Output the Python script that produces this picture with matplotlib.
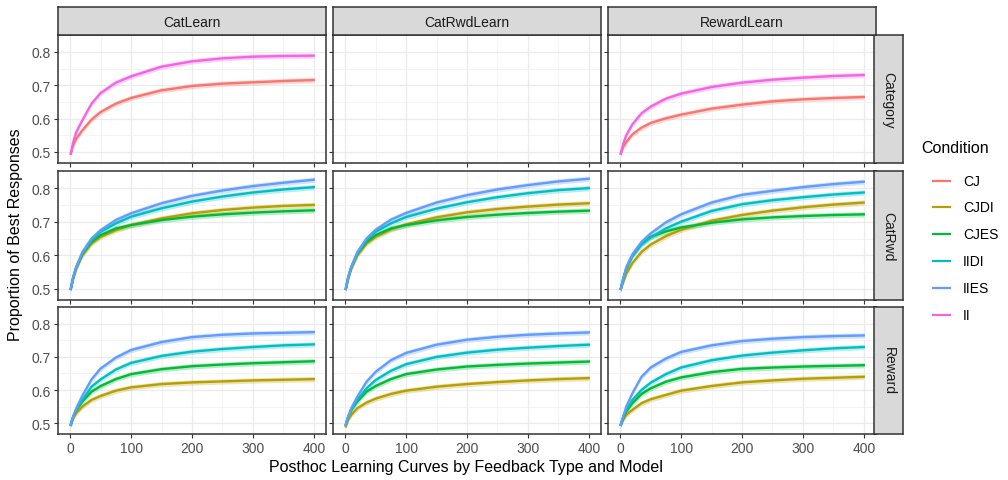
import matplotlib
matplotlib.use("Agg")
import matplotlib.pyplot as plt
from matplotlib.lines import Line2D

plt.rcParams['font.family'] = ['Liberation Sans', 'DejaVu Sans']

# ---------------- data ----------------
models = ["CatLearn", "CatRwdLearn", "RewardLearn"]          # columns
feedback = ["Category", "CatRwd", "Reward"]                  # rows
conditions = ["CJ", "CJDI", "CJES", "IIDI", "IIES", "II"]
colors = ["#F8766D", "#B79F00", "#00BA38", "#00BFC4", "#619CFF", "#F564E3"]

trial = [1, 5, 10, 20, 35, 50, 75, 100, 150, 200, 250, 300, 350, 400]
x_ticks = [0, 100, 200, 300, 400]
y_ticks = [0.5, 0.6, 0.7, 0.8]

# Category feedback
cat_catlearn_CJ = [0.495, 0.52, 0.54, 0.565, 0.597, 0.62, 0.645, 0.662, 0.685, 0.698, 0.705, 0.709, 0.713, 0.716]
cat_catlearn_II = [0.495, 0.53, 0.56, 0.595, 0.645, 0.677, 0.708, 0.727, 0.756, 0.772, 0.781, 0.786, 0.788, 0.789]
cat_rewardlearn_CJ = [0.495, 0.515, 0.53, 0.553, 0.573, 0.587, 0.601, 0.612, 0.63, 0.642, 0.652, 0.658, 0.662, 0.665]
cat_rewardlearn_II = [0.495, 0.525, 0.55, 0.583, 0.616, 0.636, 0.66, 0.675, 0.695, 0.708, 0.717, 0.723, 0.728, 0.731]

# CatRwd feedback
crw_catlearn_CJDI = [0.50, 0.53, 0.56, 0.60, 0.635, 0.655, 0.675, 0.69, 0.71, 0.725, 0.735, 0.742, 0.747, 0.75]
crw_catlearn_CJES = [0.50, 0.535, 0.565, 0.605, 0.64, 0.66, 0.68, 0.69, 0.705, 0.715, 0.722, 0.727, 0.731, 0.734]
crw_catlearn_IIDI = [0.50, 0.535, 0.565, 0.605, 0.645, 0.67, 0.695, 0.715, 0.74, 0.76, 0.775, 0.787, 0.796, 0.803]
crw_catlearn_IIES = [0.50, 0.535, 0.565, 0.61, 0.65, 0.675, 0.705, 0.725, 0.755, 0.777, 0.793, 0.806, 0.816, 0.825]

crw_catrwd_CJDI = [0.50, 0.53, 0.56, 0.60, 0.635, 0.655, 0.677, 0.692, 0.713, 0.728, 0.738, 0.745, 0.751, 0.755]
crw_catrwd_CJES = [0.50, 0.535, 0.565, 0.605, 0.64, 0.66, 0.68, 0.69, 0.704, 0.714, 0.721, 0.726, 0.730, 0.733]
crw_catrwd_IIDI = [0.50, 0.535, 0.565, 0.605, 0.645, 0.67, 0.695, 0.714, 0.739, 0.758, 0.773, 0.785, 0.794, 0.80]
crw_catrwd_IIES = [0.50, 0.535, 0.565, 0.61, 0.65, 0.676, 0.706, 0.726, 0.757, 0.779, 0.796, 0.809, 0.82, 0.828]

crw_rewardlearn_CJDI = [0.50, 0.52, 0.545, 0.577, 0.61, 0.632, 0.657, 0.676, 0.703, 0.72, 0.733, 0.743, 0.751, 0.757]
crw_rewardlearn_CJES = [0.50, 0.53, 0.56, 0.60, 0.635, 0.655, 0.671, 0.683, 0.697, 0.707, 0.713, 0.717, 0.72, 0.722]
crw_rewardlearn_IIDI = [0.50, 0.53, 0.56, 0.597, 0.632, 0.653, 0.68, 0.70, 0.732, 0.752, 0.764, 0.773, 0.781, 0.787]
crw_rewardlearn_IIES = [0.50, 0.53, 0.565, 0.603, 0.64, 0.665, 0.698, 0.722, 0.757, 0.78, 0.792, 0.803, 0.812, 0.819]

# Reward feedback
rwd_catlearn_CJDI = [0.495, 0.515, 0.53, 0.55, 0.57, 0.582, 0.598, 0.608, 0.618, 0.623, 0.626, 0.629, 0.631, 0.633]
rwd_catlearn_CJES = [0.495, 0.52, 0.54, 0.565, 0.595, 0.612, 0.633, 0.648, 0.663, 0.672, 0.677, 0.681, 0.684, 0.687]
rwd_catlearn_IIDI = [0.495, 0.52, 0.54, 0.57, 0.61, 0.632, 0.662, 0.682, 0.703, 0.716, 0.724, 0.73, 0.735, 0.738]
rwd_catlearn_IIES = [0.495, 0.52, 0.545, 0.583, 0.632, 0.665, 0.698, 0.721, 0.745, 0.76, 0.767, 0.771, 0.773, 0.775]

rwd_catrwd_CJDI = [0.49, 0.51, 0.525, 0.545, 0.562, 0.574, 0.588, 0.598, 0.61, 0.618, 0.624, 0.629, 0.633, 0.636]
rwd_catrwd_CJES = [0.495, 0.52, 0.54, 0.565, 0.595, 0.612, 0.633, 0.648, 0.662, 0.671, 0.676, 0.68, 0.683, 0.686]
rwd_catrwd_IIDI = [0.495, 0.52, 0.54, 0.57, 0.605, 0.63, 0.658, 0.678, 0.70, 0.713, 0.722, 0.728, 0.733, 0.737]
rwd_catrwd_IIES = [0.495, 0.52, 0.545, 0.58, 0.625, 0.655, 0.69, 0.712, 0.737, 0.752, 0.761, 0.767, 0.771, 0.774]

rwd_rewardlearn_CJDI = [0.495, 0.51, 0.525, 0.54, 0.56, 0.572, 0.585, 0.598, 0.612, 0.623, 0.629, 0.634, 0.637, 0.64]
rwd_rewardlearn_CJES = [0.495, 0.515, 0.535, 0.56, 0.588, 0.605, 0.625, 0.638, 0.654, 0.664, 0.668, 0.671, 0.673, 0.675]
rwd_rewardlearn_IIDI = [0.495, 0.52, 0.54, 0.57, 0.60, 0.622, 0.648, 0.668, 0.69, 0.704, 0.713, 0.72, 0.726, 0.73]
rwd_rewardlearn_IIES = [0.495, 0.52, 0.55, 0.59, 0.64, 0.668, 0.695, 0.715, 0.735, 0.748, 0.755, 0.76, 0.763, 0.765]

band_halfwidth = 0.008

panels = {
    ("Category", "CatLearn"): {"CJ": cat_catlearn_CJ, "II": cat_catlearn_II},
    ("Category", "CatRwdLearn"): {},
    ("Category", "RewardLearn"): {"CJ": cat_rewardlearn_CJ, "II": cat_rewardlearn_II},
    ("CatRwd", "CatLearn"): {"CJDI": crw_catlearn_CJDI, "CJES": crw_catlearn_CJES,
                             "IIDI": crw_catlearn_IIDI, "IIES": crw_catlearn_IIES},
    ("CatRwd", "CatRwdLearn"): {"CJDI": crw_catrwd_CJDI, "CJES": crw_catrwd_CJES,
                                "IIDI": crw_catrwd_IIDI, "IIES": crw_catrwd_IIES},
    ("CatRwd", "RewardLearn"): {"CJDI": crw_rewardlearn_CJDI, "CJES": crw_rewardlearn_CJES,
                                "IIDI": crw_rewardlearn_IIDI, "IIES": crw_rewardlearn_IIES},
    ("Reward", "CatLearn"): {"CJDI": rwd_catlearn_CJDI, "CJES": rwd_catlearn_CJES,
                             "IIDI": rwd_catlearn_IIDI, "IIES": rwd_catlearn_IIES},
    ("Reward", "CatRwdLearn"): {"CJDI": rwd_catrwd_CJDI, "CJES": rwd_catrwd_CJES,
                                "IIDI": rwd_catrwd_IIDI, "IIES": rwd_catrwd_IIES},
    ("Reward", "RewardLearn"): {"CJDI": rwd_rewardlearn_CJDI, "CJES": rwd_rewardlearn_CJES,
                                "IIDI": rwd_rewardlearn_IIDI, "IIES": rwd_rewardlearn_IIES},
}

# ---------------- layout (pixels) ----------------
W, H = 1008, 481
fig = plt.figure(figsize=(W / 100, H / 100), dpi=100)

col_left = [58, 333, 608]
col_w = 268
row_top = [36, 172, 308]
row_h = [128, 129, 127]
strip_top_y = 8
strip_right_x0, strip_right_x1 = 874, 903

def fx(px):
    return px / W

def fy(py):
    return 1 - py / H

border = "#333333"
grid_c = "#EBEBEB"
txt_c = "#4D4D4D"

for r, fb in enumerate(feedback):
    for c, md in enumerate(models):
        ax = fig.add_axes([fx(col_left[c]), fy(row_top[r] + row_h[r]),
                           col_w / W, row_h[r] / H])
        ax.set_xlim(-20, 420)
        ax.set_ylim(0.467, 0.851)
        ax.set_xticks(x_ticks)
        ax.set_yticks(y_ticks)
        ax.set_xticks([50, 150, 250, 350], minor=True)
        ax.set_yticks([0.55, 0.65, 0.75], minor=True)
        ax.grid(True, which="major", color=grid_c, lw=0.9)
        ax.grid(True, which="minor", color="#F2F2F2", lw=0.6)
        ax.set_axisbelow(True)
        for s in ax.spines.values():
            s.set_color(border)
            s.set_linewidth(1.1)
        ax.tick_params(which="minor", length=0)
        ax.tick_params(which="major", length=3, color=border, labelcolor=txt_c,
                       labelsize=10, width=0.8, pad=2)
        if c == 0:
            ax.set_yticklabels([f"{v:.1f}" for v in y_ticks])
        else:
            ax.tick_params(axis="y", labelleft=False)
        if r == 2:
            ax.set_xticklabels([str(v) for v in x_ticks])
        else:
            ax.tick_params(axis="x", labelbottom=False)

        data = panels[(fb, md)]
        for cond, col in zip(conditions, colors):
            if cond in data:
                vals = data[cond]
                lo = [v - band_halfwidth for v in vals]
                hi = [v + band_halfwidth for v in vals]
                ax.fill_between(trial, lo, hi, color=col, alpha=0.28, lw=0)
                ax.plot(trial, vals, color=col, lw=1.7, solid_joinstyle="round")

        # right strip
        if c == 2:
            sax = fig.add_axes([fx(strip_right_x0), fy(row_top[r] + row_h[r]),
                                (strip_right_x1 - strip_right_x0) / W, row_h[r] / H])
            sax.set_facecolor("#D9D9D9")
            sax.set_xticks([]); sax.set_yticks([])
            for s in sax.spines.values():
                s.set_color(border); s.set_linewidth(1.1)
            sax.text(0.5, 0.5, fb, rotation=-90, ha="center", va="center",
                     fontsize=10, color="#1A1A1A", transform=sax.transAxes)

for c, md in enumerate(models):
    sax = fig.add_axes([fx(col_left[c]), fy(row_top[0]), col_w / W,
                        (row_top[0] - strip_top_y) / H])
    sax.set_facecolor("#D9D9D9")
    sax.set_xticks([]); sax.set_yticks([])
    for s in sax.spines.values():
        s.set_color(border); s.set_linewidth(1.1)
    sax.text(0.5, 0.48, md, ha="center", va="center", fontsize=10,
             color="#1A1A1A", transform=sax.transAxes)

# axis titles
fig.text(fx(16), fy(235), "Proportion of Best Responses", rotation=90,
         ha="center", va="center", fontsize=11.5, color="black")
fig.text(fx(466), fy(468), "Posthoc Learning Curves by Feedback Type and Model",
         ha="center", va="center", fontsize=11.5, color="black")

# legend
fig.text(fx(921), fy(149), "Condition", ha="left", va="center", fontsize=11.5,
         color="black")
leg_y = [182, 208, 235, 262, 289, 316]
for cond, col, py in zip(conditions, colors, leg_y):
    fig.add_artist(Line2D([fx(933), fx(950)], [fy(py), fy(py)], color=col, lw=1.6))
    fig.text(fx(963), fy(py), cond, ha="left", va="center", fontsize=10,
             color="black")

fig.savefig("out.png", dpi=100)
